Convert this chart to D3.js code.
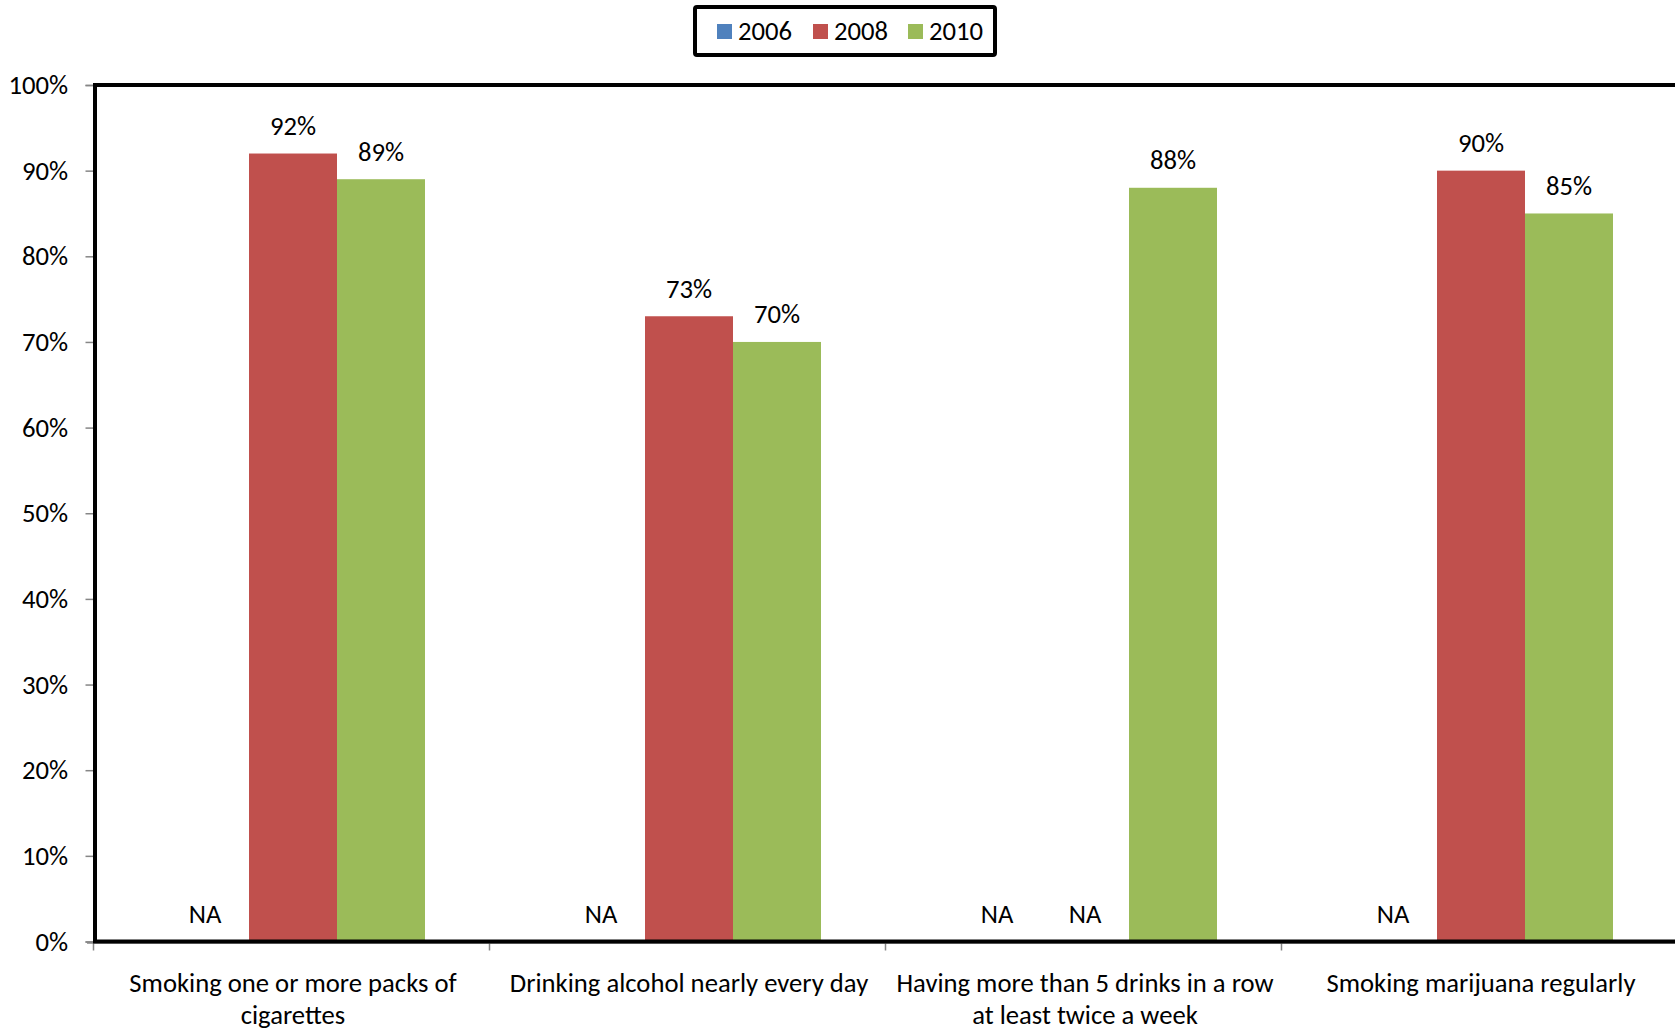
<!DOCTYPE html>
<html>
<head>
<meta charset="utf-8">
<script src="https://cdn.jsdelivr.net/npm/d3@7"></script>
<style>
  html, body { margin: 0; padding: 0; background: #fff; overflow: hidden; }
  svg { display: block; }
  text { font-family: Carlito, "Open Sans", Lato, sans-serif; fill: #000; }
</style>
</head>
<body>
<svg id="chart" width="1675" height="1031"></svg>
<script>
const categories = [
  "Smoking one or more packs of cigarettes",
  "Drinking alcohol nearly every day",
  "Having more than 5 drinks in a row at least twice a week",
  "Smoking marijuana regularly"
];
const seriesNames = ["2006", "2008", "2010"];
const values2006 = [null, null, null, null];
const values2008 = [0.92, 0.73, null, 0.90];
const values2010 = [0.89, 0.70, 0.88, 0.85];
const yTicks = [0, 0.1, 0.2, 0.3, 0.4, 0.5, 0.6, 0.7, 0.8, 0.9, 1.0];
const colors = ["#4F81BD", "#C0504D", "#9BBB59"];

const seriesValues = [values2006, values2008, values2010];
const rows = categories.map((c, i) => ({
  category: c,
  items: seriesNames.map((s, j) => ({ series: s, value: seriesValues[j][i] }))
}));

const svg = d3.select("#chart");
const FS = 26.67;

const plotLeft = 95, plotTop = 85, plotBottom = 941.5, bandW = 396;
const plotRight = plotLeft + bandW * categories.length;

const x0 = d3.scaleBand().domain(categories).range([plotLeft, plotRight]).padding(0);
const x1 = d3.scaleBand().domain(seriesNames).range([0, x0.bandwidth()]).paddingInner(0).paddingOuter(0.75);
const y = d3.scaleLinear().domain([0, 1]).range([plotBottom, plotTop]);
const color = d3.scaleOrdinal().domain(seriesNames).range(colors);

// Bars
const groups = svg.append("g").selectAll("g").data(rows).join("g")
  .attr("transform", d => `translate(${x0(d.category)},0)`);

groups.selectAll("rect").data(d => d.items.filter(it => it.value != null)).join("rect")
  .attr("x", d => x1(d.series))
  .attr("y", d => y(d.value))
  .attr("width", x1.bandwidth())
  .attr("height", d => y(0) - y(d.value))
  .attr("fill", d => color(d.series));

groups.selectAll("text.lbl").data(d => d.items).join("text")
  .attr("class", "lbl")
  .attr("x", d => x1(d.series) + x1.bandwidth() / 2)
  .attr("y", d => y(d.value == null ? 0 : d.value) - 18.5)
  .attr("text-anchor", "middle")
  .style("font-size", FS + "px")
  .text(d => d.value == null ? "NA" : d3.format(".0%")(d.value));

// Y axis (gray) with ticks
const yAxis = d3.axisLeft(y).tickValues(yTicks).tickFormat(d3.format(".0%")).tickSize(8).tickPadding(17.5);
const gy = svg.append("g").attr("transform", `translate(${plotLeft - 1.5},0)`).call(yAxis);
gy.select(".domain").attr("stroke", "#868686").attr("stroke-width", 1.5);
gy.selectAll(".tick line").attr("stroke", "#868686").attr("stroke-width", 1.5);
gy.selectAll(".tick text").style("font-size", FS + "px").style("font-family", null).attr("fill", "#000");

// X axis (gray) ticks at category boundaries
const gx = svg.append("g");
gx.append("line").attr("x1", plotLeft - 8).attr("x2", plotRight).attr("y1", plotBottom + 1.5).attr("y2", plotBottom + 1.5)
  .attr("stroke", "#868686").attr("stroke-width", 1.5);
gx.selectAll("line.t").data(categories.concat([null])).join("line").attr("class", "t")
  .attr("x1", (d, i) => plotLeft - 1.5 + i * x0.step())
  .attr("x2", (d, i) => plotLeft - 1.5 + i * x0.step())
  .attr("y1", plotBottom + 1.5).attr("y2", plotBottom + 9)
  .attr("stroke", "#868686").attr("stroke-width", 1.5);

// Plot area border (black)
svg.append("rect")
  .attr("x", plotLeft).attr("y", plotTop)
  .attr("width", plotRight - plotLeft).attr("height", plotBottom - plotTop)
  .attr("fill", "none").attr("stroke", "#000").attr("stroke-width", 4);

// Category labels with wrapping
const catText = svg.append("g").selectAll("text").data(categories).join("text")
  .attr("x", d => x0(d) + x0.bandwidth() / 2)
  .attr("y", 992)
  .attr("text-anchor", "middle")
  .style("font-size", FS + "px");

catText.each(function(d) {
  const t = d3.select(this);
  const words = d.split(" ");
  let line = [];
  let tspan = t.append("tspan").attr("x", t.attr("x")).attr("dy", 0);
  words.forEach(w => {
    line.push(w);
    tspan.text(line.join(" "));
    if (tspan.node().getComputedTextLength() > 390 && line.length > 1) {
      line.pop();
      tspan.text(line.join(" "));
      line = [w];
      tspan = t.append("tspan").attr("x", t.attr("x")).attr("dy", 32).text(w);
    }
  });
});

// Legend
const lg = svg.append("g");
lg.append("rect").attr("x", 695).attr("y", 7).attr("width", 300).attr("height", 48)
  .attr("fill", "#fff").attr("stroke", "#000").attr("stroke-width", 4).attr("rx", 2);
const legendX = [717, 813, 908];
const li = lg.selectAll("g").data(seriesNames).join("g")
  .attr("transform", (d, i) => `translate(${legendX[i]},0)`);
li.append("rect").attr("x", 0).attr("y", 24).attr("width", 15).attr("height", 15).attr("fill", d => color(d));
li.append("text").attr("x", 21).attr("y", 39.5).style("font-size", FS + "px").text(d => d);
</script>
</body>
</html>
